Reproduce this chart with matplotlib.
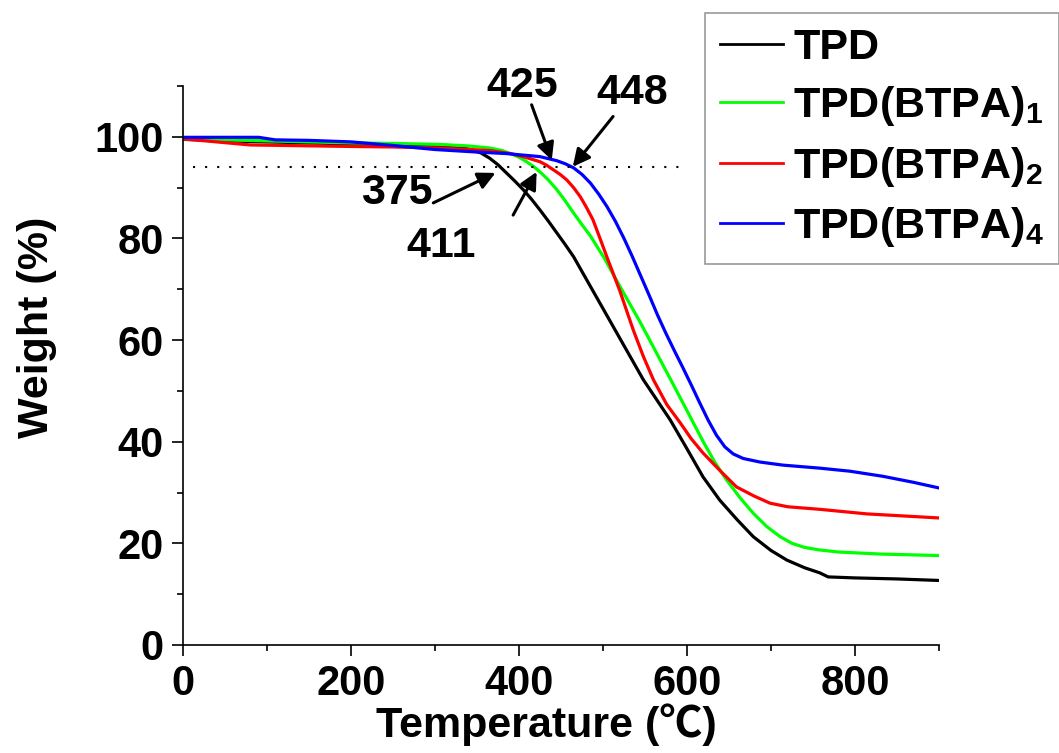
import matplotlib
matplotlib.use("Agg")
import matplotlib.pyplot as plt
from matplotlib.ticker import MultipleLocator

plt.rcParams['font.family'] = ['Liberation Sans', 'Noto Sans CJK SC', 'DejaVu Sans']
plt.rcParams['font.weight'] = 'bold'
plt.rcParams['mathtext.fontset'] = 'custom'
plt.rcParams['mathtext.rm'] = 'Liberation Sans:bold'
plt.rcParams['mathtext.bf'] = 'Liberation Sans:bold'
plt.rcParams['mathtext.default'] = 'bf'

# TGA curves (temperature in C, weight in %)
tpd_t = [0, 50, 100, 200, 250, 306, 330, 345, 355, 365, 375, 385, 395, 405, 415,
         425, 435, 445, 455, 465, 500, 548, 580, 600, 619, 639, 660, 679, 700,
         719, 740, 758, 768, 800, 850, 900]
tpd_w = [99.5, 99.2, 99.0, 98.6, 98.5, 98.3, 97.9, 97.4, 96.8, 95.8, 94.5, 92.9,
         91.3, 89.6, 87.7, 85.6, 83.4, 81.1, 78.8, 76.4, 66.2, 52.2, 44.3, 38.6,
         33.1, 28.5, 24.6, 21.3, 18.6, 16.7, 15.2, 14.2, 13.4, 13.2, 13.0, 12.7]

b1_t = [0, 100, 200, 250, 306, 340, 365, 380, 393, 401, 409, 417, 425, 435, 445,
        455, 465, 475, 485, 502, 520, 544, 580, 600, 619, 633, 647, 663, 679,
        695, 711, 725, 740, 758, 780, 830, 900]
b1_w = [99.6, 99.2, 98.8, 98.7, 98.5, 98.2, 97.8, 97.3, 96.5, 95.9, 95.1, 94.2,
        93.1, 91.5, 89.6, 87.4, 85.0, 82.7, 80.5, 76.0, 70.6, 63.6, 52.4, 46.1,
        40.1, 36.0, 32.5, 29.0, 25.9, 23.3, 21.3, 20.0, 19.2, 18.7, 18.3, 17.9,
        17.6]

b2_t = [0, 80, 200, 250, 306, 365, 390, 405, 415, 425, 433, 441, 449, 457, 465,
        473, 480, 488, 496, 505, 520, 536, 548, 560, 576, 592, 605, 619, 640,
        659, 680, 699, 720, 758, 814, 900]
b2_w = [99.6, 98.4, 98.1, 98.0, 97.8, 97.3, 96.7, 96.1, 95.6, 95.1, 94.4, 93.5,
        92.6, 91.5, 90.0, 88.2, 86.2, 83.7, 80.2, 76.2, 69.7, 62.0, 56.8, 52.2,
        47.3, 43.7, 40.6, 37.8, 34.2, 31.1, 29.3, 27.9, 27.2, 26.7, 25.8, 25.0]

b4_t = [0, 90, 110, 150, 200, 250, 300, 350, 385, 425, 445, 455, 465, 475, 485,
        495, 505, 515, 525, 535, 545, 555, 565, 575, 585, 595, 605, 615, 625,
        635, 645, 655, 667, 687, 714, 758, 794, 833, 870, 900]
b4_w = [99.9, 99.9, 99.4, 99.3, 99.0, 98.3, 97.5, 97.0, 96.7, 96.1, 95.3, 94.7,
        93.9, 92.6, 90.9, 88.7, 86.2, 83.3, 80.0, 76.4, 72.6, 68.8, 64.9, 61.3,
        57.9, 54.6, 51.2, 47.7, 44.3, 41.3, 39.0, 37.6, 36.7, 36.0, 35.4, 34.8,
        34.2, 33.2, 32.0, 30.9]

series = [
    ("TPD", tpd_t, tpd_w, "black"),
    ("TPD(BTPA)$_1$", b1_t, b1_w, "#00ff00"),
    ("TPD(BTPA)$_2$", b2_t, b2_w, "red"),
    ("TPD(BTPA)$_4$", b4_t, b4_w, "blue"),
]

# 5% weight loss temperatures: label, text position, arrow tail, arrow head
td5_labels = ["375", "411", "425", "448"]
td5_text = [(255, 88.9), (307, 78.6), (404, 110.0), (535, 108.6)]
td5_tail = [(298, 87.0), (393, 84.6), (415, 106.3), (512, 104.0)]
td5_head = [(372, 92.9), (421, 93.1), (439, 95.4), (464, 94.1)]
td5_level = 94.1

fig = plt.figure(figsize=(10.59, 7.53), dpi=100)
ax = fig.add_axes([183 / 1059, 1 - 645 / 753, 756 / 1059, 559 / 753])

for label, t, w, c in series:
    ax.plot(t, w, color=c, lw=2.3, label=label, solid_joinstyle='round')

ax.plot([12, 595], [td5_level, td5_level], color='black', lw=1.5,
        linestyle=(0, (1, 4.8)))

for txt, tp, tail, head in zip(td5_labels, td5_text, td5_tail, td5_head):
    ax.text(tp[0], tp[1], txt, fontsize=31, ha='center', va='center', clip_on=False)
    ax.annotate("", xy=head, xytext=tail, annotation_clip=False,
                arrowprops=dict(arrowstyle='-|>', color='black', lw=2.2,
                                mutation_scale=26, shrinkA=0, shrinkB=0))

ax.set_xlim(0, 900)
ax.set_ylim(0, 110)
ax.xaxis.set_major_locator(MultipleLocator(200))
ax.xaxis.set_minor_locator(MultipleLocator(100))
ax.yaxis.set_major_locator(MultipleLocator(20))
ax.yaxis.set_minor_locator(MultipleLocator(10))
for s in ['top', 'right']:
    ax.spines[s].set_visible(False)
for s in ['left', 'bottom']:
    ax.spines[s].set_linewidth(1.2)
ax.tick_params(which='major', direction='out', length=8, width=1.2,
               labelsize=30, pad=6)
ax.tick_params(which='minor', direction='out', length=4, width=1.2)

ax.set_xlabel("Temperature (℃)", fontsize=31, fontweight='bold')
ax.set_ylabel("Weight (%)", fontsize=31, fontweight='bold')
ax.xaxis.label.set(va='baseline', ha='center', rotation_mode='anchor')
ax.yaxis.label.set(va='baseline', ha='center', rotation_mode='anchor')
ax.xaxis.set_label_coords(0.480, -0.1646)
ax.yaxis.set_label_coords(-0.178, 0.569)

leg = ax.legend(loc='upper left', bbox_to_anchor=(705 / 1059, 1 - 13 / 753),
                bbox_transform=fig.transFigure, fontsize=31, frameon=True,
                fancybox=False, edgecolor='#808080', handlelength=1.45,
                handletextpad=0.25, labelspacing=0.38, borderaxespad=0,
                borderpad=0.35)
leg.get_frame().set_linewidth(1.2)
for h in leg.get_lines():
    h.set_linewidth(2)

fig.savefig("out.png", dpi=100)
